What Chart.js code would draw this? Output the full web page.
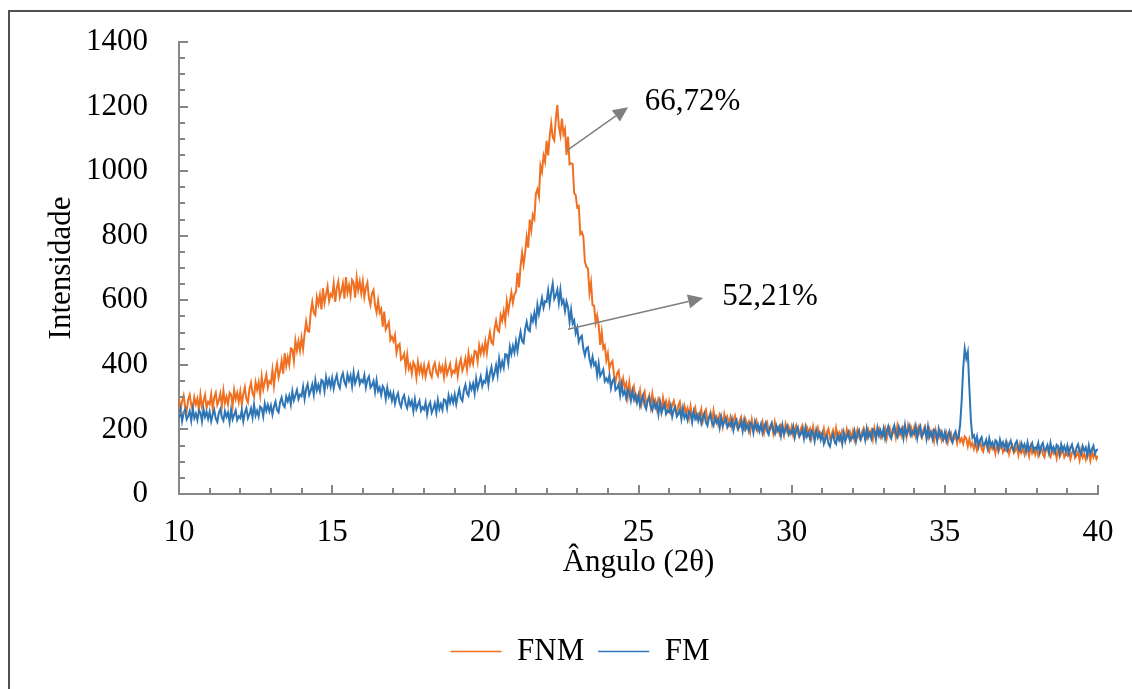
<!DOCTYPE html>
<html>
<head>
<meta charset="utf-8">
<title>DRX FNM / FM</title>
<script src="https://cdn.jsdelivr.net/npm/chart.js@4.4.1/dist/chart.umd.min.js"></script>
<style>
  body { margin: 0; background: #fff; }
  #wrap { position: relative; width: 1132px; height: 689px; overflow: hidden; }
  #frame {
    position: absolute; left: 8px; top: 10px; width: 1140px; height: 700px;
    border-top: 2px solid #505050; border-left: 2px solid #505050;
    pointer-events: none;
  }
  canvas { position: absolute; left: 0; top: 0; }
</style>
</head>
<body>
<div id="wrap">
  <canvas id="xrd" width="1132" height="689"></canvas>
  <div id="frame"></div>
</div>
<script>
// diffractogram, 10 to 40 degrees, one reading every 0.05 degree (one row = 1 degree)
const angleStart = 10;
const angleStep = 0.05;

const fnm = [
  297, 259, 287, 305, 270, 257, 292, 307, 275, 262, 300, 278, 295, 260, 307, 270, 287, 307, 267, 285,
  278, 309, 264, 298, 313, 276, 290, 311, 272, 320, 282, 301, 278, 314, 308, 272, 322, 294, 313, 285,
  317, 277, 310, 331, 294, 283, 325, 345, 312, 301, 346, 323, 346, 307, 363, 324, 347, 369, 330, 349,
  343, 384, 335, 379, 403, 361, 382, 412, 373, 436, 397, 424, 400, 451, 448, 412, 475, 444, 473, 444,
  484, 449, 496, 534, 504, 503, 563, 594, 562, 554, 610, 588, 616, 572, 637, 592, 617, 643, 598, 619,
  612, 652, 595, 637, 658, 610, 627, 652, 605, 672, 624, 646, 615, 663, 655, 608, 670, 632, 658, 622,
  658, 610, 639, 655, 607, 586, 622, 632, 585, 562, 599, 562, 573, 518, 565, 510, 521, 532, 477, 487,
  473, 492, 437, 460, 465, 416, 421, 434, 390, 431, 388, 401, 373, 408, 398, 361, 408, 377, 397, 369,
  397, 364, 388, 404, 373, 362, 393, 406, 377, 366, 399, 380, 395, 362, 404, 371, 386, 402, 369, 382,
  376, 406, 366, 400, 418, 382, 397, 419, 386, 435, 402, 423, 403, 443, 440, 410, 460, 435, 458, 436,
  472, 437, 475, 501, 470, 464, 511, 536, 508, 503, 554, 537, 566, 534, 597, 565, 595, 624, 592, 619,
  626, 685, 640, 706, 747, 711, 748, 796, 763, 850, 817, 864, 852, 930, 944, 922, 1017, 998, 1048, 1029,
  1094, 1049, 1108, 1148, 1105, 1095, 1161, 1205, 1138, 1111, 1163, 1115, 1130, 1050, 1106, 1021, 1024, 1022, 932, 926,
  888, 892, 805, 811, 797, 719, 704, 698, 623, 655, 585, 584, 531, 553, 522, 462, 502, 451, 460, 414,
  435, 388, 405, 412, 368, 347, 374, 382, 342, 325, 357, 330, 343, 302, 345, 304, 318, 333, 292, 305,
  296, 321, 280, 307, 318, 281, 290, 305, 270, 310, 275, 290, 264, 296, 289, 256, 298, 271, 287, 262,
  286, 256, 275, 288, 258, 248, 273, 285, 256, 246, 273, 254, 266, 236, 272, 242, 254, 268, 236, 248,
  240, 262, 226, 251, 261, 229, 236, 252, 220, 257, 226, 239, 217, 247, 239, 210, 247, 223, 238, 216,
  238, 208, 228, 242, 211, 201, 227, 239, 211, 201, 229, 211, 223, 193, 230, 200, 213, 227, 196, 208,
  201, 222, 189, 212, 222, 193, 201, 216, 188, 222, 194, 206, 188, 214, 208, 183, 216, 194, 208, 188,
  209, 182, 201, 213, 188, 178, 203, 213, 189, 180, 206, 190, 202, 175, 208, 181, 193, 206, 178, 189,
  181, 202, 170, 192, 202, 174, 183, 197, 170, 204, 177, 190, 171, 197, 191, 167, 200, 179, 193, 173,
  195, 168, 188, 201, 176, 167, 193, 204, 181, 172, 199, 183, 196, 169, 203, 176, 190, 202, 175, 186,
  181, 203, 171, 195, 206, 178, 187, 203, 176, 211, 183, 197, 179, 207, 202, 176, 212, 189, 205, 185,
  207, 179, 198, 210, 184, 174, 199, 210, 183, 173, 199, 182, 193, 164, 196, 168, 181, 193, 165, 176,
  171, 189, 160, 180, 189, 163, 170, 183, 158, 186, 162, 172, 156, 178, 172, 148, 170, 148, 158, 140,
  160, 135, 152, 163, 140, 131, 152, 162, 140, 131, 155, 140, 150, 126, 155, 131, 142, 154, 129, 139,
  134, 153, 124, 143, 152, 127, 134, 146, 121, 152, 128, 139, 122, 145, 139, 117, 146, 127, 140, 122,
  142, 118, 134, 145, 123, 114, 135, 145, 124, 115, 139, 125, 135, 111, 140, 116, 127, 139, 114, 124,
  119, 138, 109, 128, 137, 112, 119, 131, 106, 137, 113, 124, 107, 131, 125, 103, 132, 114, 126, 108,
  118
];

const fm = [
  237, 261, 225, 251, 263, 231, 241, 257, 227, 265, 235, 249, 229, 259, 253, 225, 263, 239, 255, 233,
  255, 225, 247, 261, 233, 223, 251, 263, 237, 227, 257, 239, 253, 223, 261, 231, 245, 259, 229, 241,
  235, 260, 225, 252, 266, 235, 247, 265, 237, 277, 243, 258, 240, 271, 266, 240, 280, 258, 276, 256,
  274, 246, 270, 286, 260, 253, 284, 299, 276, 269, 302, 287, 304, 277, 318, 290, 306, 322, 294, 308,
  303, 332, 294, 325, 340, 307, 320, 339, 308, 352, 321, 338, 318, 353, 349, 319, 362, 336, 355, 332,
  359, 327, 352, 368, 339, 328, 361, 374, 347, 336, 370, 351, 367, 334, 376, 343, 358, 374, 340, 353,
  346, 368, 330, 354, 364, 330, 337, 350, 317, 352, 319, 330, 307, 334, 325, 294, 329, 302, 315, 290,
  312, 280, 300, 312, 282, 270, 296, 306, 278, 266, 294, 275, 288, 257, 294, 263, 276, 289, 258, 269,
  262, 284, 247, 273, 284, 252, 264, 281, 252, 291, 263, 279, 261, 293, 290, 266, 305, 283, 302, 283,
  308, 278, 305, 324, 296, 288, 322, 338, 312, 304, 340, 324, 342, 312, 357, 327, 345, 364, 334, 350,
  345, 378, 339, 374, 393, 358, 375, 399, 368, 419, 388, 410, 391, 433, 432, 404, 456, 433, 458, 438,
  473, 443, 477, 502, 474, 468, 510, 533, 508, 504, 550, 535, 561, 531, 586, 557, 583, 607, 577, 597,
  595, 630, 589, 625, 652, 604, 615, 633, 592, 633, 590, 600, 567, 596, 578, 533, 570, 528, 538, 498,
  515, 471, 484, 490, 449, 429, 451, 455, 418, 399, 425, 399, 407, 368, 404, 365, 375, 386, 349, 358,
  348, 368, 328, 350, 358, 322, 328, 340, 306, 341, 308, 319, 296, 323, 314, 289, 319, 293, 307, 283,
  305, 273, 293, 305, 275, 263, 289, 299, 271, 259, 287, 267, 279, 247, 284, 252, 266, 278, 248, 259,
  253, 273, 239, 261, 270, 240, 247, 261, 232, 265, 236, 248, 229, 255, 248, 222, 255, 233, 246, 226,
  246, 219, 237, 249, 222, 212, 236, 247, 222, 212, 238, 221, 232, 205, 238, 211, 223, 235, 207, 218,
  211, 232, 198, 221, 230, 201, 208, 223, 195, 229, 201, 213, 195, 221, 215, 190, 223, 201, 215, 195,
  216, 189, 208, 220, 194, 184, 209, 220, 196, 186, 212, 196, 208, 180, 213, 186, 199, 211, 184, 195,
  188, 209, 175, 198, 207, 179, 186, 200, 172, 206, 178, 189, 170, 196, 190, 164, 197, 175, 189, 168,
  187, 156, 172, 182, 156, 147, 173, 185, 163, 155, 183, 167, 181, 155, 190, 164, 178, 191, 165, 177,
  173, 195, 163, 186, 197, 170, 179, 194, 168, 203, 176, 189, 172, 200, 195, 169, 205, 182, 197, 178,
  202, 172, 194, 209, 181, 172, 200, 213, 187, 177, 207, 189, 203, 174, 213, 183, 197, 211, 181, 193,
  186, 210, 173, 199, 210, 178, 187, 203, 172, 209, 178, 191, 170, 199, 193, 165, 201, 178, 192, 170,
  191, 164, 182, 194, 169, 159, 184, 194, 170, 176, 215, 290, 390, 450, 420, 440, 330, 230, 175, 182,
  158, 178, 148, 168, 176, 150, 155, 168, 142, 172, 150, 160, 143, 166, 161, 138, 168, 148, 160, 142,
  162, 137, 154, 165, 143, 134, 155, 164, 143, 134, 158, 144, 154, 131, 160, 136, 147, 158, 134, 144,
  139, 158, 128, 149, 158, 133, 140, 152, 128, 158, 134, 145, 129, 152, 147, 125, 154, 135, 148, 130,
  150, 125, 142, 153, 131, 122, 144, 154, 133, 124, 148, 134, 144, 120, 150, 126, 137, 149, 125, 136,
  138
];

const angles = fnm.map((_, i) => +(angleStart + i * angleStep).toFixed(2));

const xTicks = [10, 15, 20, 25, 30, 35, 40];
const yTicks = [0, 200, 400, 600, 800, 1000, 1200, 1400];

// crystallinity index callouts: arrow tail on the peak, head near the label
const callouts = [
  { text: '66,72%', from: [22.67, 1064], to: [24.66, 1198], label: [25.2, 1215] },
  { text: '52,21%', from: [22.70, 510], to: [27.11, 607], label: [27.73, 610] }
];

const orange = '#F07022';
const blue = '#2E75B6';
const axisGray = '#868686';
const serif = '"Liberation Serif", "Times New Roman", serif';

Chart.defaults.font.family = serif;
Chart.defaults.font.size = 31;
Chart.defaults.color = '#000';

// small ticks pointing into the plot, every 1 degree and every 50 counts
const innerTicks = {
  id: 'innerTicks',
  afterDraw(chart) {
    const { ctx, chartArea, scales: { x, y } } = chart;
    ctx.save();
    ctx.strokeStyle = axisGray;
    ctx.lineWidth = 2;
    ctx.beginPath();
    for (let v = x.min; v <= x.max; v += 1) {
      const px = Math.round(x.getPixelForValue(v));
      const len = v % 5 === 0 ? 9 : 6;
      ctx.moveTo(px, chartArea.bottom);
      ctx.lineTo(px, chartArea.bottom - len);
    }
    for (let v = y.min; v <= y.max; v += 50) {
      const py = Math.round(y.getPixelForValue(v));
      const len = v % 200 === 0 ? 9 : 6;
      ctx.moveTo(chartArea.left, py);
      ctx.lineTo(chartArea.left + len, py);
    }
    ctx.stroke();
    ctx.restore();
  }
};

const calloutArrows = {
  id: 'calloutArrows',
  afterDatasetsDraw(chart) {
    const { ctx, scales: { x, y } } = chart;
    ctx.save();
    callouts.forEach(c => {
      const x0 = x.getPixelForValue(c.from[0]), y0 = y.getPixelForValue(c.from[1]);
      const x1 = x.getPixelForValue(c.to[0]), y1 = y.getPixelForValue(c.to[1]);
      const ang = Math.atan2(y1 - y0, x1 - x0);
      const head = 15, half = 7;
      const bx = x1 - head * Math.cos(ang), by = y1 - head * Math.sin(ang);
      ctx.strokeStyle = '#7f7f7f';
      ctx.fillStyle = '#7f7f7f';
      ctx.lineWidth = 1.5;
      ctx.beginPath();
      ctx.moveTo(x0, y0);
      ctx.lineTo(bx, by);
      ctx.stroke();
      ctx.beginPath();
      ctx.moveTo(x1, y1);
      ctx.lineTo(bx + half * Math.sin(ang), by - half * Math.cos(ang));
      ctx.lineTo(bx - half * Math.sin(ang), by + half * Math.cos(ang));
      ctx.closePath();
      ctx.fill();
      ctx.fillStyle = '#000';
      ctx.font = '31px ' + serif;
      ctx.textAlign = 'left';
      ctx.textBaseline = 'middle';
      ctx.fillText(c.text, x.getPixelForValue(c.label[0]), y.getPixelForValue(c.label[1]));
    });
    ctx.restore();
  }
};

// move the legend row under the middle of the plot
const legendShift = {
  id: 'legendShift',
  afterLayout(chart) {
    chart.legend.left += 31;
    chart.legend.right += 31;
  }
};

new Chart(document.getElementById('xrd'), {
  type: 'line',
  data: {
    labels: angles,
    datasets: [{
      label: 'FNM',
      data: fnm,
      borderColor: orange,
      backgroundColor: orange,
      borderWidth: 2,
      pointRadius: 0,
      order: 2
    }, {
      label: 'FM',
      data: fm,
      borderColor: blue,
      backgroundColor: blue,
      borderWidth: 2,
      pointRadius: 0,
      order: 1
    }]
  },
  options: {
    responsive: false,
    devicePixelRatio: 1,
    animation: false,
    layout: { padding: { left: 0, right: 34, top: 42, bottom: 12 } },
    plugins: {
      tooltip: { enabled: false },
      legend: {
        position: 'bottom',
        labels: {
          usePointStyle: true,
          pointStyle: 'line',
          pointStyleWidth: 51,
          boxHeight: 31,
          padding: 14,
          sort: (a, b) => a.datasetIndex - b.datasetIndex,
          generateLabels: chart => Chart.defaults.plugins.legend.labels.generateLabels(chart)
            .map(item => ({ ...item, lineWidth: 1.5 }))
        }
      }
    },
    scales: {
      x: {
        type: 'linear',
        min: 10,
        max: 40,
        afterFit: s => { s.height = 128; s.paddingLeft = 0; s.paddingRight = 0; },
        afterBuildTicks: s => { s.ticks = xTicks.map(v => ({ value: v })); },
        grid: { display: false, drawTicks: false },
        border: { display: true, color: axisGray, width: 2 },
        ticks: { padding: 20, maxRotation: 0, callback: v => String(v) },
        title: { display: true, text: 'Ângulo (2θ)', padding: { top: 0, bottom: 41 } }
      },
      y: {
        min: 0,
        max: 1400,
        afterFit: s => { s.width = 179; s.paddingTop = 0; s.paddingBottom = 0; },
        afterBuildTicks: s => { s.ticks = yTicks.map(v => ({ value: v })); },
        grid: { display: false, drawTicks: false },
        border: { display: true, color: axisGray, width: 2 },
        ticks: { padding: 31, callback: v => String(v) },
        title: { display: true, text: 'Intensidade', padding: { top: 43, bottom: 0 } }
      }
    }
  },
  plugins: [innerTicks, calloutArrows, legendShift]
});
</script>
</body>
</html>
